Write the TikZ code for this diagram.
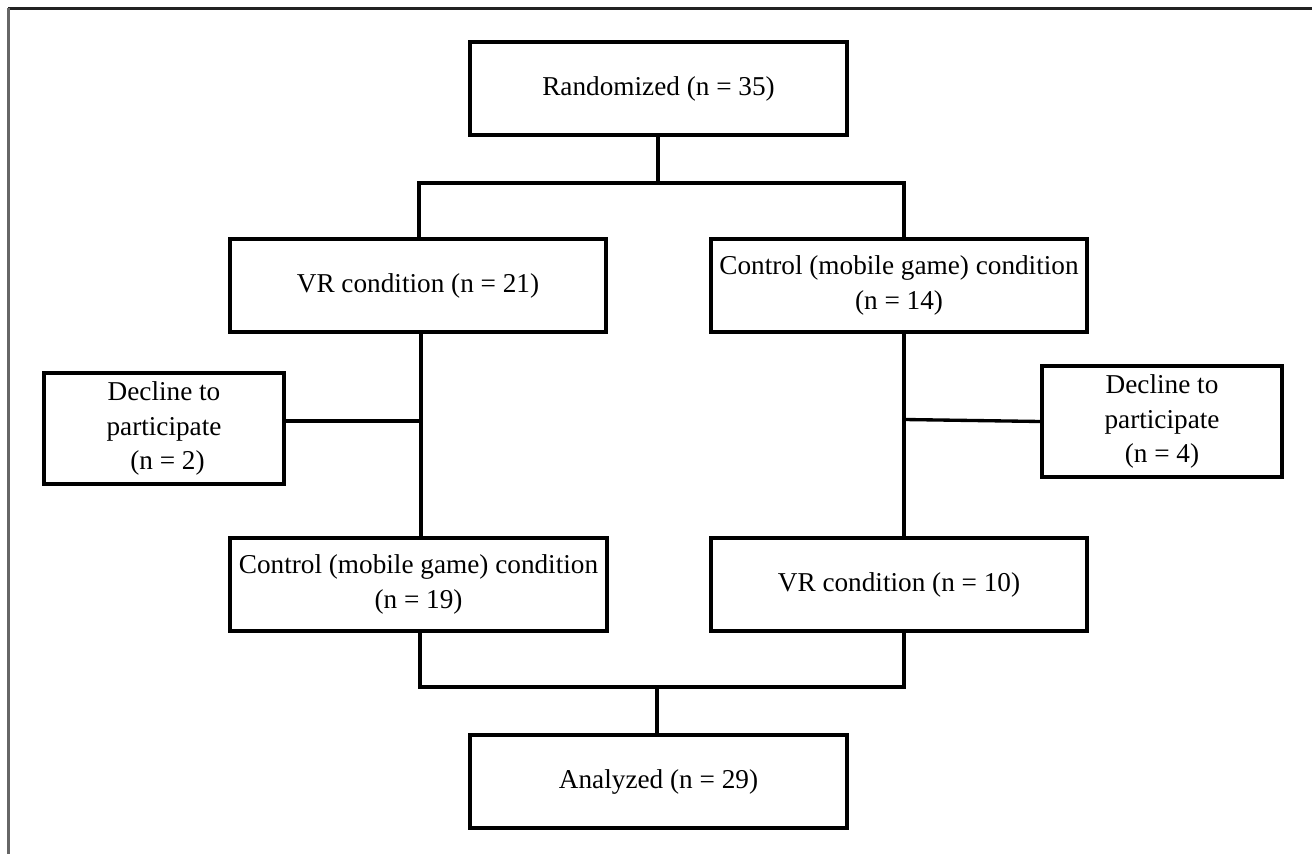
\documentclass[tikz,border=0pt]{standalone}
\usepackage{fontspec}
\setmainfont{Liberation Serif}
\definecolor{frametop}{HTML}{222222}
\definecolor{frameleft}{HTML}{666666}
\begin{document}
\begin{tikzpicture}[x=0.02cm,y=-0.02cm,
  box/.style={draw=black, line width=2.1pt, align=center, inner sep=0pt,
    font=\fontsize{15.5}{19.5}\selectfont, minimum width=7.53cm, minimum height=1.86cm},
  smallbox/.style={box, minimum width=4.8cm, minimum height=2.22cm},
  link/.style={draw=black, line width=1.9pt}]
\useasboundingbox (0,0) rectangle (1312,854);
% outer frame (top and left only)
\draw[frametop, line width=1.3pt] (8,8.5) -- (1312,8.5);
\draw[frameleft, line width=1.3pt] (8.5,8) -- (8.5,854);
% nodes
\node[box] (R) at (658.5,88.5) {Randomized (n = 35)};
\node[box] (V1) at (418,285.5) {VR condition (n = 21)};
\node[box] (C1) at (899,285.5) {Control (mobile game) condition\\(n = 14)};
\node[smallbox] (DL) at (164,428.5) {Decline to\\participate\\\hspace{4pt}(n = 2)};
\node[smallbox] (DR) at (1162,421.5) {Decline to\\participate\\(n = 4)};
\node[box] (C2) at (418.5,584.5) {Control (mobile game) condition\\(n = 19)};
\node[box] (V2) at (899,584.5) {VR condition (n = 10)};
\node[box] (A) at (658.5,781.5) {Analyzed (n = 29)};
% helper coordinates
\coordinate (t) at (658,183);
\coordinate (tl) at (419,183);
\coordinate (tr) at (904,183);
\coordinate (ml) at (421,421);
\coordinate (mr) at (904,419.5);
\coordinate (bl) at (420,687);
\coordinate (br) at (904,687);
\coordinate (bm) at (657,687);
% connectors
\draw[link] (R.south -| t) -- (t);
\draw[link] (V1.north -| tl) -- (tl) -- (tr) -- (C1.north -| tr);
\draw[link] (V1.south -| ml) -- (C2.north -| ml);
\draw[link] (DL.east |- ml) -- (ml);
\draw[link] (C1.south -| mr) -- (V2.north -| mr);
\draw[link] (mr) -- (DR.west);
\draw[link] (C2.south -| bl) -- (bl) -- (br) -- (V2.south -| br);
\draw[link] (bm) -- (A.north -| bm);
\end{tikzpicture}
\end{document}
